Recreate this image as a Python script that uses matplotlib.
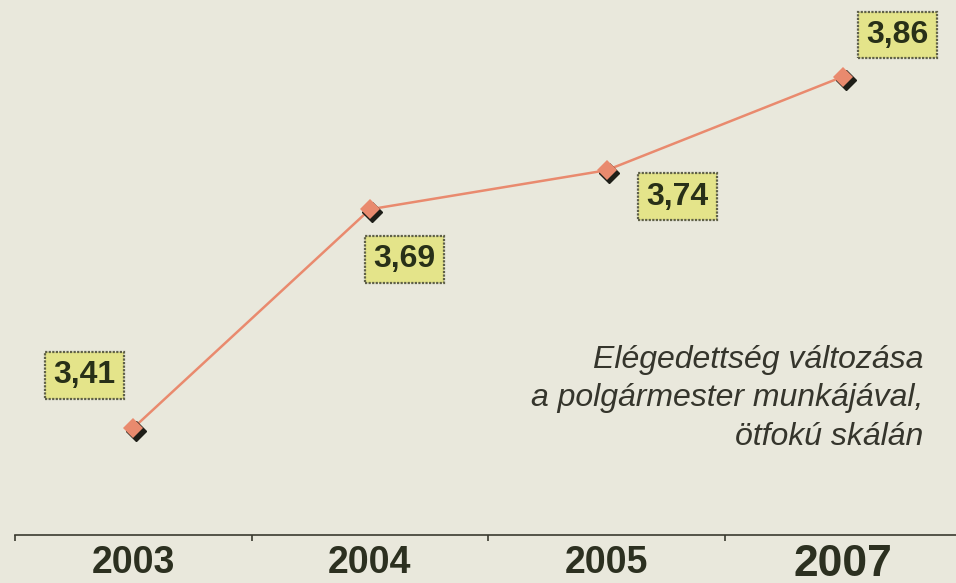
import matplotlib
matplotlib.use("Agg")
from matplotlib import pyplot as plt
from matplotlib import transforms

years = ["2003", "2004", "2005", "2007"]
values = [3.41, 3.69, 3.74, 3.86]
value_labels = ["3,41", "3,69", "3,74", "3,86"]
caption = "Elégedettség változása\na polgármester munkájával,\nötfokú skálán"

# label box offsets from the points, in points
label_offsets = [(-35, 38), (25, -36), (51, -19), (39, 30)]

bg = "#e9e8dc"
line_col = "#e98a6e"
plt.rcParams["font.family"] = ["Liberation Sans", "DejaVu Sans"]

fig = plt.figure(figsize=(9.56, 5.83), dpi=100, facecolor=bg)
ax = fig.add_axes([15 / 956, 48 / 583, 1 - 15 / 956, 1 - 48 / 583])
ax.set_facecolor(bg)

x = list(range(len(years)))
ax.set_xlim(-0.5, 3.477)
ax.set_ylim(3.273, 3.958)

# shadow under the diamonds
shadow = transforms.offset_copy(ax.transData, fig=fig, x=1.8, y=-2.2, units="points")
ax.plot(x, values, linestyle="none", marker="D", markersize=10,
        color="#1e1e18", transform=shadow, zorder=3)
ax.plot(x, values, color=line_col, linewidth=1.8, zorder=2)
ax.plot(x, values, linestyle="none", marker="D", markersize=10,
        color=line_col, markeredgewidth=0, zorder=4)

for xi, v, lab, off in zip(x, values, value_labels, label_offsets):
    ax.annotate(lab, (xi, v), xytext=off, textcoords="offset points",
                ha="center", va="center", fontsize=23, fontweight="bold",
                color="#283018",
                bbox=dict(boxstyle="square,pad=0.26", facecolor="#e4e48a",
                          edgecolor="#5f6048", linewidth=1.6, linestyle=(0, (1, 0.6))))

ax.text(0.965, 0.356, caption, transform=ax.transAxes, ha="right", va="top",
        fontsize=23, fontstyle="italic", color="#35352c", linespacing=1.38)

# axis line with section ticks
for side in ["top", "right", "left"]:
    ax.spines[side].set_visible(False)
ax.spines["bottom"].set_color("#3a3a30")
ax.spines["bottom"].set_linewidth(1.2)
ax.set_yticks([])
ax.set_xticks([-0.5, 0.5, 1.5, 2.5])
ax.set_xticklabels([])
ax.tick_params(axis="x", direction="out", length=4, width=1.2, color="#3a3a30")

for xi, yr in zip(x, years):
    size = 32 if yr == "2007" else 27
    ax.text(xi, -0.052 if yr != "2007" else -0.055, yr, transform=ax.get_xaxis_transform(),
            ha="center", va="center", fontsize=size, fontweight="bold",
            color="#2c3020")

fig.savefig("out.png", dpi=100, facecolor=bg)
